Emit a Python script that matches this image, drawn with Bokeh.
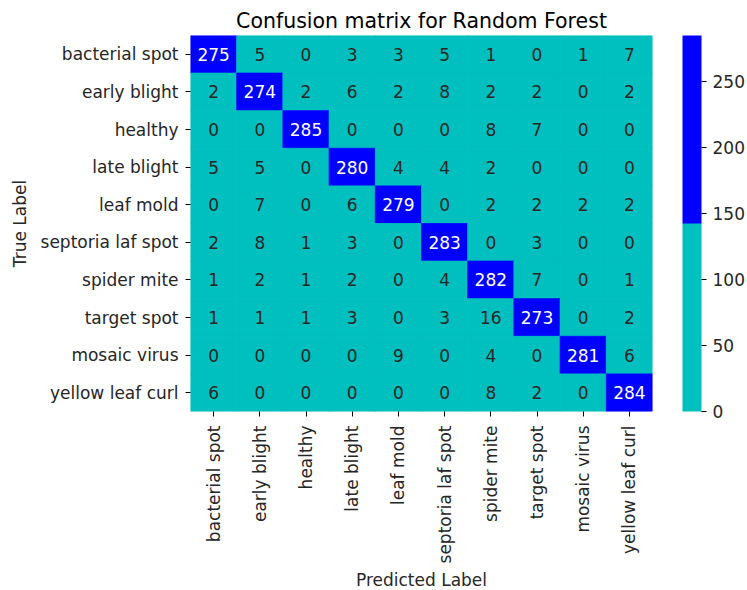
import math
from bokeh.plotting import figure
from bokeh.models import ColumnDataSource, LinearColorMapper, ColorBar, FixedTicker
from bokeh.transform import transform
from bokeh.embed import file_html
from bokeh.resources import INLINE

classes = ["bacterial spot", "early blight", "healthy", "late blight", "leaf mold",
           "septoria laf spot", "spider mite", "target spot", "mosaic virus", "yellow leaf curl"]

row_bacterial_spot = [275, 5, 0, 3, 3, 5, 1, 0, 1, 7]
row_early_blight = [2, 274, 2, 6, 2, 8, 2, 2, 0, 2]
row_healthy = [0, 0, 285, 0, 0, 0, 8, 7, 0, 0]
row_late_blight = [5, 5, 0, 280, 4, 4, 2, 0, 0, 0]
row_leaf_mold = [0, 7, 0, 6, 279, 0, 2, 2, 2, 2]
row_septoria = [2, 8, 1, 3, 0, 283, 0, 3, 0, 0]
row_spider_mite = [1, 2, 1, 2, 0, 4, 282, 7, 0, 1]
row_target_spot = [1, 1, 1, 3, 0, 3, 16, 273, 0, 2]
row_mosaic_virus = [0, 0, 0, 0, 9, 0, 4, 0, 281, 6]
row_yellow_leaf_curl = [6, 0, 0, 0, 0, 0, 8, 2, 0, 284]

rows = [row_bacterial_spot, row_early_blight, row_healthy, row_late_blight, row_leaf_mold,
        row_septoria, row_spider_mite, row_target_spot, row_mosaic_virus, row_yellow_leaf_curl]

colorbar_ticks = [0, 50, 100, 150, 200, 250]

CYAN = "#00BFBF"
BLUE = "#0000FF"
FONT = "DejaVu Sans"

vmin = 0
vmax = max(max(r) for r in rows)

xs, ys, vals, labels, tcolors = [], [], [], [], []
for i, r in enumerate(rows):
    for j, v in enumerate(r):
        xs.append(classes[j])
        ys.append(classes[i])
        vals.append(v)
        labels.append(str(v))
        tcolors.append("#FFFFFF" if v > (vmin + vmax) / 2 else "#262626")

src = ColumnDataSource(dict(x=xs, y=ys, v=vals, lab=labels, tc=tcolors))

mapper = LinearColorMapper(palette=[CYAN, BLUE], low=vmin, high=vmax)

p = figure(x_range=classes, y_range=list(reversed(classes)),
           frame_width=462, frame_height=376,
           min_border_left=190, min_border_top=35, min_border_bottom=171, min_border_right=86,
           output_backend="svg", toolbar_location=None,
           title="Confusion matrix for Random Forest")

p.rect(x="x", y="y", width=1, height=1, source=src,
       fill_color=transform("v", mapper), line_color=transform("v", mapper), line_width=0.8)
p.text(x="x", y="y", text="lab", source=src, text_color="tc",
       text_align="center", text_baseline="middle",
       text_font={"value": FONT}, text_font_size={"value": "17px"})

p.title.text_font = FONT
p.title.text_font_size = "20.5px"
p.title.text_font_style = "normal"
p.title.align = "center"
p.title.vertical_align = "middle"
p.title.text_color = "#000000"
p.title.standoff = 4
p.title.offset = 0

p.grid.visible = False
p.outline_line_color = None
p.background_fill_color = "white"

for ax in (p.xaxis, p.yaxis):
    ax.axis_line_color = None
    ax.major_tick_line_color = "#000000"
    ax.major_tick_in = 0
    ax.major_tick_out = 5
    ax.minor_tick_line_color = None
    ax.major_label_text_font = FONT
    ax.major_label_text_font_size = "17px"
    ax.major_label_text_color = "#262626"
    ax.axis_label_text_font = FONT
    ax.axis_label_text_font_size = "17px"
    ax.axis_label_text_font_style = "normal"
    ax.axis_label_text_color = "#262626"

p.xaxis.major_label_orientation = math.pi / 2
p.xaxis.major_label_standoff = 9
p.yaxis.major_label_standoff = 7
p.xaxis.axis_label_standoff = 4
p.yaxis.axis_label_standoff = 8
p.xaxis.axis_label = "Predicted Label"
p.yaxis.axis_label = "True Label"

cb = ColorBar(color_mapper=mapper, ticker=FixedTicker(ticks=colorbar_ticks),
              width=19, height=376, padding=0, margin=0,
              location=(30, 0),
              major_tick_line_color="#000000", major_tick_in=0, major_tick_out=5,
              minor_tick_line_color=None,
              major_label_text_font=FONT, major_label_text_font_size="17px",
              major_label_text_color="#262626", label_standoff=6,
              bar_line_color=None, border_line_color=None,
              background_fill_color=None)
p.add_layout(cb, "right")

open("out.html", "w").write(file_html(p, INLINE))
